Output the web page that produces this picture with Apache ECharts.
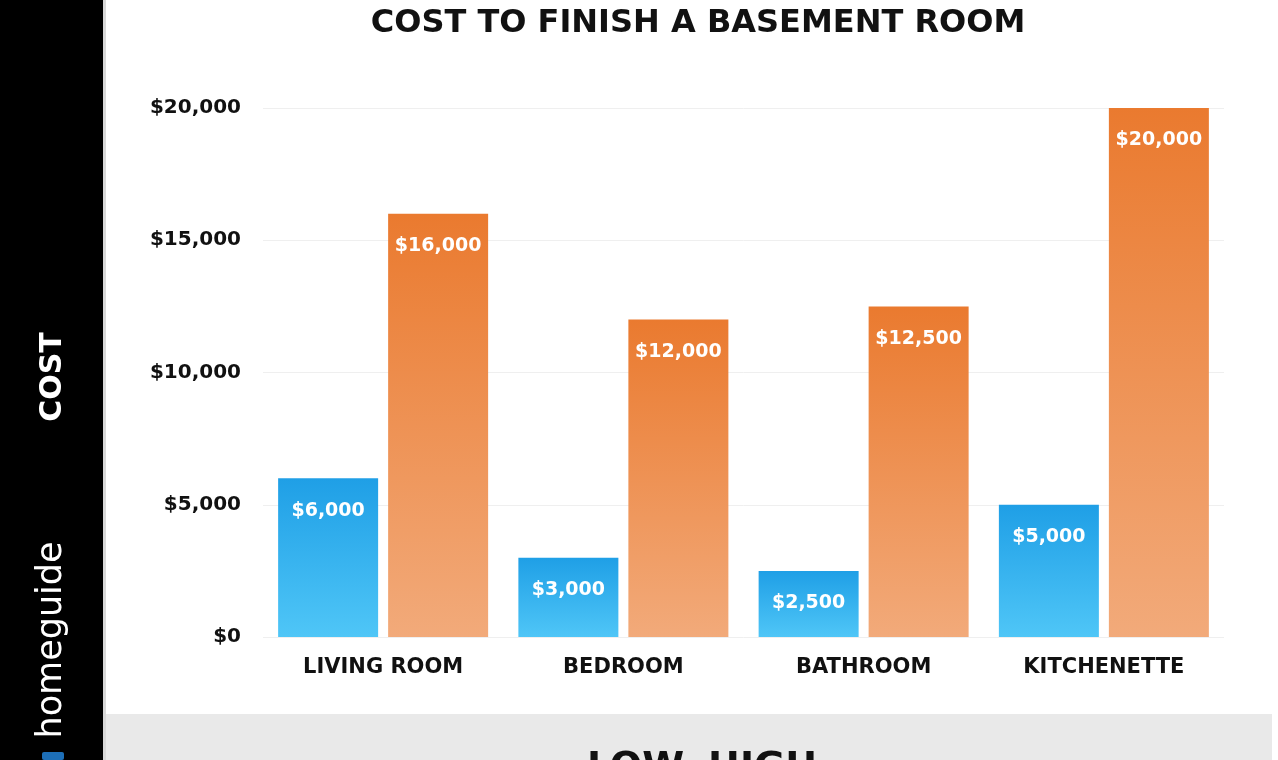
<!DOCTYPE html>
<html>
<head>
<meta charset="utf-8">
<script src="https://cdn.jsdelivr.net/npm/echarts@6/dist/echarts.min.js"></script>
<style>
html,body{margin:0;padding:0;background:#fff;}
#chart{width:1278px;height:760px;}
</style>
</head>
<body>
<div id="chart"></div>
<script>
const categories = ['LIVING ROOM', 'BEDROOM', 'BATHROOM', 'KITCHENETTE'];
const lowValues = [6000, 3000, 2500, 5000];
const highValues = [16000, 12000, 12500, 20000];
const seriesNames = ['LOW', 'HIGH'];
const yTicks = [0, 5000, 10000, 15000, 20000];

const fmt = v => '$' + Number(v).toLocaleString('en-US');
const font = '"DejaVu Sans", "Open Sans", sans-serif';

const chart = echarts.init(document.getElementById('chart'));
chart.setOption({
  backgroundColor: '#ffffff',
  animation: false,
  title: {
    text: 'COST TO FINISH A BASEMENT ROOM',
    left: 693, top: 3, textAlign: 'center',
    textStyle: {fontFamily: font, fontWeight: 'bold', fontSize: 32, color: '#111'}
  },
  graphic: [
    {type: 'rect', shape: {x: 0, y: 0, width: 103, height: 760}, style: {fill: '#000'}, z: 10},
    {type: 'rect', shape: {x: 103, y: 0, width: 3, height: 760}, style: {fill: '#d8d8d8'}, z: 10},
    {type: 'rect', shape: {x: 106, y: 714, width: 1166, height: 46}, style: {fill: '#e9e9e9'}, z: 0},
    {type: 'text', x: 53, y: 377, rotation: Math.PI / 2, z: 11,
      style: {text: 'COST', fill: '#fff', font: 'bold 30px ' + font, align: 'center', verticalAlign: 'middle'}},
    {type: 'text', x: 52, y: 640, rotation: Math.PI / 2, z: 11,
      style: {text: 'homeguide', fill: '#fff', font: '35px ' + font, align: 'center', verticalAlign: 'middle'}},
    {type: 'rect', shape: {x: 42, y: 752, width: 22, height: 8, r: 2}, style: {fill: '#1d6fb8'}, z: 11}
  ],
  legend: {
    data: seriesNames,
    left: 566, top: 744,
    icon: 'rect', itemWidth: 14, itemHeight: 14, itemGap: 8,
    textStyle: {fontFamily: font, fontWeight: 'bold', fontSize: 38, color: '#111', padding: [0, 0, 0, -3]}
  },
  grid: {left: 263, right: 54, top: 108, bottom: 123},
  xAxis: {
    type: 'category',
    data: categories,
    axisLine: {show: false},
    axisTick: {show: false},
    axisLabel: {fontFamily: font, fontWeight: 'bold', fontSize: 21, color: '#111', margin: 20}
  },
  yAxis: {
    type: 'value',
    min: 0, max: 20000, interval: 5000,
    axisLabel: {
      fontFamily: font, fontWeight: 'bold', fontSize: 20, color: '#111', margin: 22,
      formatter: v => yTicks.includes(v) ? fmt(v) : ''
    },
    splitLine: {lineStyle: {color: '#efefef', width: 1}},
    axisLine: {show: false},
    axisTick: {show: false}
  },
  series: [
    {
      name: seriesNames[0], type: 'bar', data: lowValues,
      barWidth: 100, barGap: '10%',
      itemStyle: {color: new echarts.graphic.LinearGradient(0, 0, 0, 1, [
        {offset: 0, color: '#1f9fe6'}, {offset: 1, color: '#4fc6f7'}])},
      label: {show: true, position: 'insideTop', distance: 23, formatter: p => fmt(p.value),
        fontFamily: font, fontWeight: 'bold', fontSize: 19, color: '#fff'}
    },
    {
      name: seriesNames[1], type: 'bar', data: highValues,
      barWidth: 100,
      itemStyle: {color: new echarts.graphic.LinearGradient(0, 0, 0, 1, [
        {offset: 0, color: '#ea7a2f'}, {offset: 1, color: '#f2aa7a'}])},
      label: {show: true, position: 'insideTop', distance: 23, formatter: p => fmt(p.value),
        fontFamily: font, fontWeight: 'bold', fontSize: 19, color: '#fff'}
    }
  ]
});
</script>
</body>
</html>
